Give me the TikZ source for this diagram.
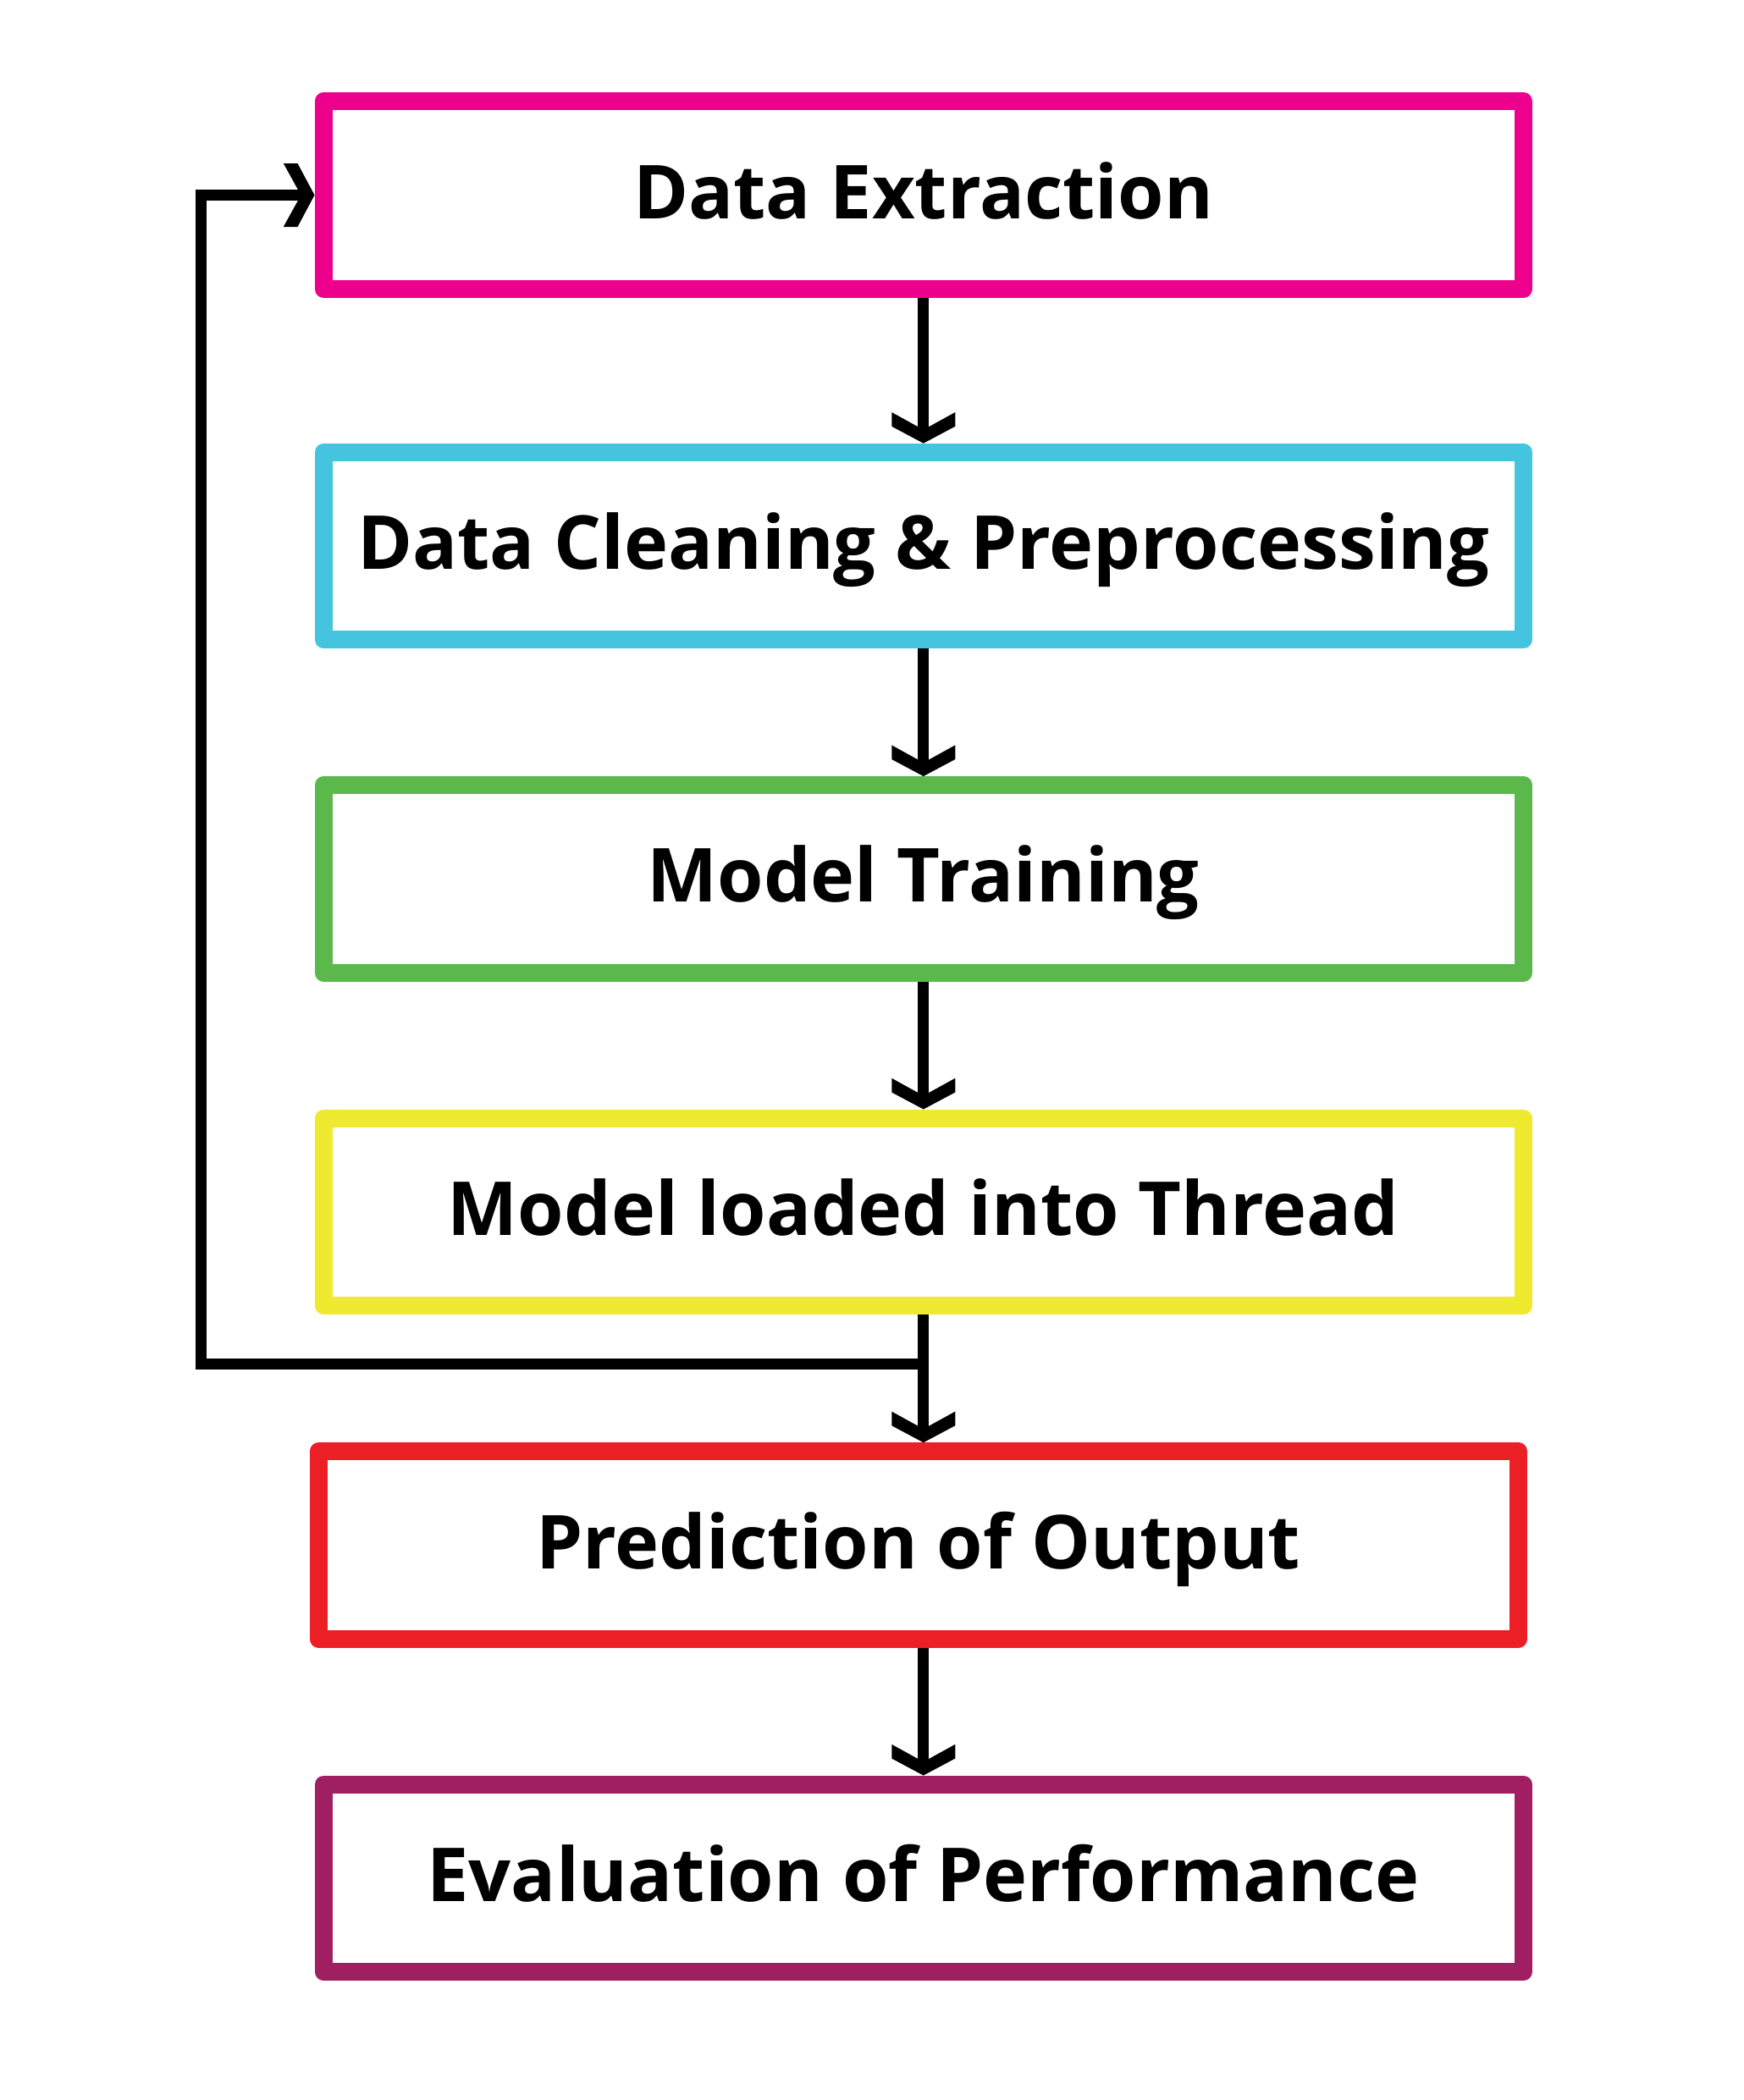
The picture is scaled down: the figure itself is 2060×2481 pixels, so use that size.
\documentclass[tikz,border=0pt]{standalone}
\usepackage{fontspec}
\setmainfont{Open Sans}
\definecolor{pinkc}{HTML}{EC008C}
\definecolor{cyanc}{HTML}{45C4E0}
\definecolor{greenc}{HTML}{5BB94B}
\definecolor{yellowc}{HTML}{EFE92F}
\definecolor{redc}{HTML}{ED1F26}
\definecolor{purplec}{HTML}{A01F62}
\pgfdeclarearrow{
  name = Chev,
  parameters = {},
  setup code = {
    \pgfarrowssettipend{0pt}
    \pgfarrowssetlineend{-12pt}
    \pgfarrowssetvisualbackend{-36.7pt}
    \pgfarrowssetbackend{-36.7pt}
    \pgfarrowshullpoint{0pt}{0pt}
    \pgfarrowsupperhullpoint{-36.7pt}{37.5pt}
  },
  drawing code = {
    \pgfpathmoveto{\pgfqpoint{0pt}{0pt}}
    \pgfpathlineto{\pgfqpoint{-20pt}{37.5pt}}
    \pgfpathlineto{\pgfqpoint{-36.7pt}{37.5pt}}
    \pgfpathlineto{\pgfqpoint{-16pt}{0pt}}
    \pgfpathlineto{\pgfqpoint{-36.7pt}{-37.5pt}}
    \pgfpathlineto{\pgfqpoint{-20pt}{-37.5pt}}
    \pgfpathclose
    \pgfusepathqfill
  }
}
\begin{document}
\begin{tikzpicture}[x=1pt,y=-1pt,
  stepbox/.style={draw, line width=21pt, line join=round,
    minimum width=1417.5pt, minimum height=221.5pt, inner sep=0pt,
    font=\fontsize{88}{88}\selectfont\bfseries,
    text height=63pt, text depth=8pt},
  conn/.style={draw=black, line width=13pt, line join=miter, -Chev}]
\useasboundingbox (0,0) rectangle (2060,2481);
\node[stepbox, draw=pinkc]   (ext)   at (1090.75,230.5)  {Data Extraction};
\node[stepbox, draw=cyanc]   (clean) at (1090.75,645)    {Data Cleaning \& Preprocessing};
\node[stepbox, draw=greenc]  (train) at (1090.75,1038.3) {Model Training};
\node[stepbox, draw=yellowc] (load)  at (1090.75,1431.75){Model loaded into Thread};
\node[stepbox, draw=redc]    (pred)  at (1084.85,1825.5) {Prediction of Output};
\node[stepbox, draw=purplec] (eval)  at (1090.75,2218.75){Evaluation of Performance};
\draw[conn] (ext.south) -- (ext.south |- clean.north);
\draw[conn] (clean.south) -- (clean.south |- train.north);
\draw[conn] (train.south) -- (train.south |- load.north);
\draw[conn] (load.south) -- (load.south |- pred.north);
\draw[conn] (load.south |- pred.south) -- (load.south |- eval.north);
\coordinate (j) at (1090.75,1611);
\coordinate (c) at (237,1611);
\draw[conn] (j) -- (c) |- (ext.west);
\end{tikzpicture}
\end{document}
